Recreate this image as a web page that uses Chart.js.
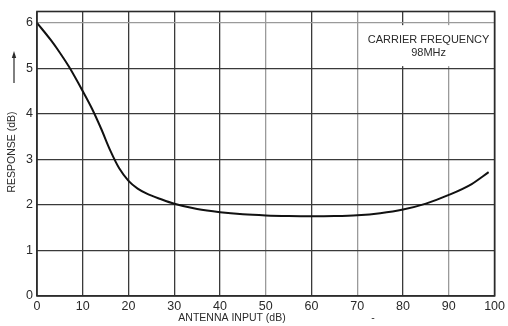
<!DOCTYPE html>
<html>
<head>
<meta charset="utf-8">
<script src="https://cdn.jsdelivr.net/npm/chart.js@4/dist/chart.umd.min.js"></script>
<style>
  html, body { margin: 0; padding: 0; background: #fff; }
  #c { display: block; }
</style>
</head>
<body>
<canvas id="c" width="508" height="326"></canvas>
<script>
// Data
const antennaInput = [0, 3, 5, 7, 10, 12, 14, 16, 18, 20, 22, 24, 27, 30, 35, 40, 45, 50, 55, 60, 65, 70, 75, 80, 85, 90, 95, 98.7];
const responseDb   = [6.0, 5.625, 5.345, 5.035, 4.5, 4.12, 3.68, 3.2, 2.8, 2.53, 2.36, 2.25, 2.13, 2.025, 1.91, 1.84, 1.795, 1.77, 1.757, 1.752, 1.757, 1.775, 1.82, 1.9, 2.03, 2.22, 2.46, 2.72];
const xTicks = [0, 10, 20, 30, 40, 50, 60, 70, 80, 90, 100];
const yTicks = [0, 1, 2, 3, 4, 5, 6];
const xTitle = 'ANTENNA INPUT (dB)';
const yTitle = 'RESPONSE (dB)';
const noteLines = ['CARRIER FREQUENCY', '98MHz'];

const FONT = '"Liberation Sans", Arial, sans-serif';
const INK = '#2a2a2a';
const lightX = [50, 70, 90];

const decor = {
  id: 'decor',
  beforeDatasetsDraw(chart) {
    const { ctx, chartArea: a, scales: { x, y } } = chart;
    ctx.save();
    const bx0 = x.getPixelForValue(70.5), bx1 = a.right - 1;
    const by0 = y.getPixelForValue(5.95), by1 = y.getPixelForValue(5.05);
    ctx.fillStyle = '#fff';
    ctx.fillRect(bx0, by0, bx1 - bx0, by1 - by0);
    ctx.fillStyle = INK;
    ctx.font = '11px ' + FONT;
    ctx.textAlign = 'center';
    ctx.textBaseline = 'middle';
    const cx = (bx0 + bx1) / 2 + 2;
    ctx.fillText(noteLines[0], cx, 40);
    ctx.fillText(noteLines[1], cx, 53);
    ctx.restore();
  },
  afterDraw(chart) {
    const { ctx, chartArea: a } = chart;
    ctx.save();
    ctx.strokeStyle = INK;
    ctx.lineWidth = 1.6;
    ctx.strokeRect(a.left, a.top, a.right - a.left, a.bottom - a.top);
    ctx.fillStyle = INK;
    ctx.font = '10.5px ' + FONT;
    ctx.textAlign = 'center';
    ctx.textBaseline = 'middle';
    ctx.fillText(xTitle, 232, 318);
    ctx.fillText('-', 373, 318);
    ctx.save();
    ctx.translate(12, 152);
    ctx.rotate(-Math.PI / 2);
    ctx.font = '10.5px ' + FONT;
    ctx.fillText(yTitle, 0, 0);
    ctx.restore();
    ctx.strokeStyle = INK;
    ctx.lineWidth = 1.2;
    ctx.beginPath();
    ctx.moveTo(14, 83);
    ctx.lineTo(14, 54);
    ctx.stroke();
    ctx.fillStyle = INK;
    ctx.beginPath();
    ctx.moveTo(14, 51);
    ctx.lineTo(11.8, 58);
    ctx.lineTo(16.2, 58);
    ctx.closePath();
    ctx.fill();
    ctx.restore();
  }
};

new Chart(document.getElementById('c'), {
  type: 'line',
  data: {
    datasets: [{
      data: antennaInput.map((v, i) => ({ x: v, y: responseDb[i] })),
      borderColor: '#111',
      borderWidth: 2,
      pointRadius: 0,
      fill: false,
      cubicInterpolationMode: 'monotone'
    }]
  },
  options: {
    responsive: false,
    devicePixelRatio: 1,
    animation: false,
    layout: { padding: { left: 0, right: 5, top: 11, bottom: 0 } },
    plugins: { legend: { display: false }, tooltip: { enabled: false } },
    scales: {
      x: {
        type: 'linear',
        min: 0, max: 100,
        afterBuildTicks: s => { s.ticks = xTicks.map(v => ({ value: v })); },
        afterFit: s => { s.height = 30; },
        ticks: { color: INK, font: { family: FONT, size: 12.5 }, padding: 3, maxRotation: 0 },
        grid: {
          drawTicks: false,
          color: c => lightX.includes(c.tick && c.tick.value) ? '#9a9a9a' : '#3a3a3a',
          lineWidth: 1.3
        },
        border: { display: false }
      },
      y: {
        min: 0, max: 6.25,
        afterBuildTicks: s => { s.ticks = yTicks.map(v => ({ value: v })); },
        afterFit: s => { s.width = 37; },
        ticks: { color: INK, font: { family: FONT, size: 12.5 }, padding: 4 },
        grid: {
          drawTicks: false,
          color: c => (c.tick && c.tick.value === 6) ? '#9a9a9a' : '#3a3a3a',
          lineWidth: 1.3
        },
        border: { display: false }
      }
    }
  },
  plugins: [decor]
});
</script>
</body>
</html>
